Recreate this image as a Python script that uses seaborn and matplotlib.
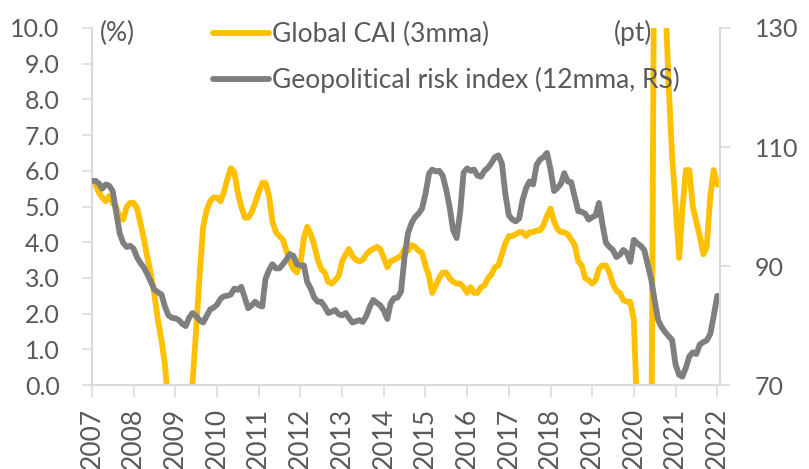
import pandas as pd
import matplotlib
matplotlib.use("Agg")
import matplotlib.pyplot as plt
import matplotlib.dates as mdates
import seaborn as sns

# Global CAI (3mma), % -- monthly, Jan 2007 .. Jan 2022
cai = [
    5.71, 5.61, 5.4, 5.25, 5.15, 5.3, 5.1, 4.99, 4.69, 4.63, 4.99, 5.1,          # 2007
    5.1, 4.94, 4.53, 4.07, 3.56, 3.1, 2.53, 1.82, 1.25, 0.59, -0.6, -2.0,        # 2008
    -3.0, -3.3, -2.8, -1.8, -1.2, 0.1, 1.51, 3.05, 4.43, 4.89, 5.15, 5.25,       # 2009
    5.25, 5.15, 5.4, 5.76, 6.07, 5.97, 5.4, 4.99, 4.69, 4.69, 4.84, 5.1,         # 2010
    5.4, 5.66, 5.66, 5.3, 4.58, 4.28, 4.17, 4.07, 3.76, 3.46, 3.25, 3.15,        # 2011
    3.4, 4.12, 4.43, 4.22, 3.92, 3.51, 3.25, 3.15, 2.89, 2.84, 2.94, 3.05,       # 2012
    3.46, 3.66, 3.81, 3.61, 3.51, 3.46, 3.51, 3.66, 3.76, 3.81, 3.87, 3.81,      # 2013
    3.56, 3.3, 3.46, 3.51, 3.56, 3.61, 3.81, 3.76, 3.92, 3.87, 3.76, 3.71,       # 2014
    3.35, 3.05, 2.58, 2.79, 2.99, 3.15, 3.15, 2.99, 2.89, 2.84, 2.84, 2.74,      # 2015
    2.58, 2.74, 2.58, 2.58, 2.74, 2.79, 2.99, 3.1, 3.3, 3.35, 3.66, 3.97,        # 2016
    4.17, 4.17, 4.22, 4.28, 4.28, 4.17, 4.28, 4.28, 4.33, 4.33, 4.48, 4.74,      # 2017
    4.94, 4.58, 4.38, 4.28, 4.28, 4.22, 4.07, 3.92, 3.46, 3.35, 2.99, 2.94,      # 2018
    2.84, 2.94, 3.25, 3.35, 3.35, 3.15, 2.84, 2.64, 2.58, 2.38, 2.33, 2.33,      # 2019
    1.82, -1.0, -6.0, -12.0, -10.0, -3.0, 15.0, 18.0, 16.0, 11.0, 8.4, 6.43,     # 2020
    5.04, 3.56, 4.89, 6.02, 6.02, 4.99, 4.58, 4.17, 3.66, 3.87, 5.3, 6.02,       # 2021
    5.61,                                                                         # 2022
]

# Geopolitical risk index (12mma), points -- right scale
gpr = [
    104.3, 104.3, 103.9, 103.0, 103.7, 103.5, 102.6, 99.0, 95.5, 93.9, 93.2, 93.4,
    92.9, 91.4, 90.5, 89.7, 88.6, 87.3, 86.0, 85.6, 85.2, 83.2, 81.7, 81.3,
    81.2, 80.9, 80.3, 79.9, 81.3, 82.1, 81.6, 80.9, 80.5, 81.6, 82.7, 83.0,
    83.5, 84.5, 84.9, 85.0, 85.2, 86.2, 86.0, 86.5, 84.7, 82.9, 83.4, 84.0,
    83.4, 83.2, 87.8, 89.3, 90.3, 89.6, 89.6, 90.3, 91.1, 92.0, 91.7, 90.3,
    90.1, 90.1, 87.3, 86.2, 84.7, 84.0, 84.0, 83.2, 82.1, 82.3, 82.6, 81.9,
    81.7, 82.1, 81.3, 80.5, 80.7, 80.9, 80.6, 81.6, 83.2, 84.3, 83.8, 83.4,
    82.5, 81.1, 83.7, 84.6, 84.7, 85.7, 91.4, 95.5, 97.2, 98.2, 98.8, 99.6,
    102.1, 105.5, 106.2, 105.9, 106.0, 105.2, 102.9, 99.9, 96.0, 94.7, 99.0, 105.7,
    106.4, 106.0, 106.2, 105.2, 105.0, 106.0, 106.5, 107.3, 108.3, 108.6, 107.2, 102.1,
    98.5, 97.8, 97.5, 98.0, 101.1, 103.1, 104.2, 103.7, 107.0, 107.9, 108.3, 109.0,
    106.2, 102.6, 103.1, 103.8, 105.6, 104.2, 104.1, 101.6, 99.2, 99.1, 98.8, 97.8,
    98.2, 98.5, 100.6, 97.0, 93.9, 93.2, 92.7, 91.5, 91.9, 92.7, 92.2, 90.7,
    94.4, 93.8, 93.4, 92.7, 90.3, 87.8, 84.2, 80.9, 79.7, 78.9, 78.2, 77.6,
    73.4, 71.7, 71.4, 72.9, 74.8, 75.5, 75.2, 76.8, 77.2, 77.5, 78.6, 81.6,
    85.0,
]

months = pd.date_range("2007-01-01", periods=len(cai), freq="MS")
years = list(range(2007, 2023))
left_ticks = [0, 1, 2, 3, 4, 5, 6, 7, 8, 9, 10]
right_ticks = [70, 90, 110, 130]

YELLOW = "#FFC000"
GREY = "#7F7F7F"
TEXT = "#595959"
AXIS = "#D9D9D9"

sns.set_style("white")
plt.rcParams["font.family"] = ["Lato", "DejaVu Sans"]
FS = 18
FS_BIG = 19

df = pd.DataFrame({"month": months, "cai": cai, "gpr": gpr})

fig = plt.figure(figsize=(8.09, 4.69), dpi=100)
ax = fig.add_axes([0.1137, 0.1791, 0.7763, 0.7612])
ax2 = ax.twinx()

sns.lineplot(data=df, x="month", y="cai", ax=ax, color=YELLOW, linewidth=4.2,
             label="Global CAI (3mma)", legend=False)
sns.lineplot(data=df, x="month", y="gpr", ax=ax2, color=GREY, linewidth=4.2,
             label="Geopolitical risk index (12mma, RS)", legend=False)

ax.set_ylim(0, 10)
ax.set_yticks(left_ticks)
ax.set_yticklabels([f"{v:.1f}" for v in left_ticks])
ax2.set_ylim(70, 130)
ax2.set_yticks(right_ticks)
ax.set_xlim(pd.Timestamp("2007-01-01"), pd.Timestamp("2022-01-25"))
ax.set_xticks([pd.Timestamp(f"{y}-01-01") for y in years])
ax.xaxis.set_major_formatter(mdates.DateFormatter("%Y"))
ax.set_xlabel("")
ax.set_ylabel("")
ax2.set_ylabel("")

for a in (ax, ax2):
    for side in ("left", "right", "bottom", "top"):
        a.spines[side].set_visible(False)
ax.spines["left"].set_visible(True)
ax.spines["bottom"].set_visible(True)
ax2.spines["right"].set_visible(True)
for sp in (ax.spines["left"], ax.spines["bottom"], ax2.spines["right"]):
    sp.set_color(AXIS)
    sp.set_linewidth(1.5)

ax.tick_params(axis="y", length=7.2, width=1.1, color=AXIS, labelcolor=TEXT,
               labelsize=FS, pad=16, left=True)
ax.tick_params(axis="x", length=8.6, width=1.1, color=AXIS, labelcolor=TEXT,
               labelsize=FS_BIG, pad=8, rotation=90, bottom=True)
ax2.tick_params(axis="y", length=7.2, width=1.1, color=AXIS, labelcolor=TEXT,
                labelsize=FS, pad=18, right=True)

ax.text(0.013, 0.986, "(%)", transform=ax.transAxes, color=TEXT, fontsize=FS_BIG,
        ha="left", va="center")
ax.text(0.831, 0.986, "(pt)", transform=ax.transAxes, color=TEXT, fontsize=FS_BIG,
        ha="left", va="center")

handles = ax.get_lines()[:1] + ax2.get_lines()[:1]
labels = ["Global CAI (3mma)", "Geopolitical risk index (12mma, RS)"]
leg = ax2.legend(handles, labels, loc="upper left", bbox_to_anchor=(0.193, 1.016),
                 frameon=False, fontsize=FS_BIG, handlelength=2.12, handletextpad=0.12,
                 labelspacing=0.75, borderaxespad=0, borderpad=0)
for t in leg.get_texts():
    t.set_color(TEXT)

fig.savefig("out.png", dpi=100)
